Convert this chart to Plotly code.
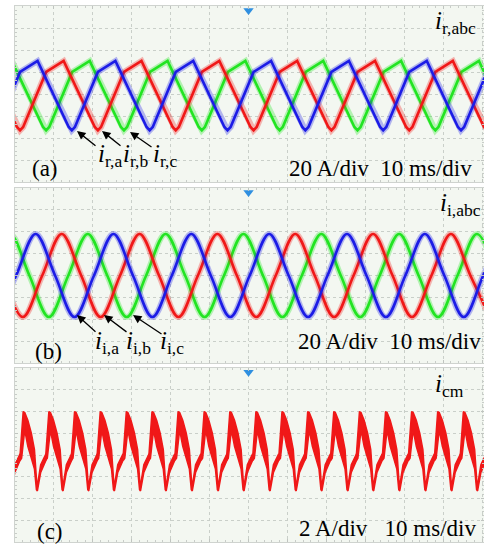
import plotly.graph_objects as go

W, H = 484, 545

# ---------------- data ----------------
# panel (a): rectifier currents (A) vs time (ms); one period of the read wave shape
# given as offsets from its positive peak, and the read peak instants of each phase
ra_shape_dt = [0.0, 8.0, 8.8, 9.6, 15.5]
ra_shape_v = [30, -30, -33, -30, 20]
ra_blue_peaks = [-14.2, 5.8, 25.8, 45.8, 65.8, 85.8, 105.8, 125.8]
ra_red_peaks = [-7.5, 12.5, 32.5, 52.5, 72.5, 92.5, 112.5, 132.5]
ra_green_peaks = [-20.8, -0.8, 19.2, 39.2, 59.2, 79.2, 99.2, 119.2]

# panel (b): inverter currents, peaks / zero crossings / troughs
ib_blue_t = [-4.7, 0.3, 5.3, 10.3, 15.3, 20.3, 25.3, 30.3, 35.3, 40.3, 45.3, 50.3, 55.3, 60.3, 65.3,
             70.3, 75.3, 80.3, 85.3, 90.3, 95.3, 100.3, 105.3, 110.3, 115.3, 120.3, 125.3]
ib_blue_v = [-38, 0, 38, 0] * 6 + [-38, 0, 38]
ib_red_t = [-3.0, 2.0, 7.0, 12.0, 17.0, 22.0, 27.0, 32.0, 37.0, 42.0, 47.0, 52.0, 57.0, 62.0, 67.0,
            72.0, 77.0, 82.0, 87.0, 92.0, 97.0, 102.0, 107.0, 112.0, 117.0, 122.0]
ib_red_v = [0, -38, 0, 38] * 6 + [0, -38]
ib_green_t = [-6.3, -1.3, 3.7, 8.7, 13.7, 18.7, 23.7, 28.7, 33.7, 38.7, 43.7, 48.7, 53.7, 58.7, 63.7,
              68.7, 73.7, 78.7, 83.7, 88.7, 93.7, 98.7, 103.7, 108.7, 113.7, 118.7, 123.7]
ib_green_v = [0, 38, 0, -38] * 6 + [0, 38, 0]

# panel (c): common-mode current; read envelope of one tooth (offsets from its peak) and peak instants
cm_up_dt = [-0.9, -0.1, 0.3, 1.1, 2.0, 2.8, 3.35, 3.45, 3.6, 4.4, 5.75]
cm_up_v = [0.0, 4.0, 3.9, 3.2, 2.0, 0.5, -2.4, -3.1, -2.7, -0.9, 0.1]
cm_lo_dt = [5.75, 4.4, 3.55, 3.3, 2.8, 2.0, 1.1, 0.3, -0.5, -0.9]
cm_lo_v = [-0.5, -1.6, -3.3, -3.2, -1.3, -0.3, 0.8, 2.3, -0.3, -0.5]
cm_peaks = [-4.45, 2.2, 8.8, 15.4, 22.0, 28.7, 35.3, 42.0, 48.7, 55.3, 62.0, 68.7, 75.3, 82.0,
            88.6, 95.3, 102.0, 108.7, 115.3, 122.0]

RED = "#f01818"
GREEN = "#22e422"
BLUE = "#1c1ce6"
BG = "#f3f7f1"
GRID = "#c9cfc9"
FONT = "Liberation Serif"

# ---------------- figure ----------------
fig = go.Figure()

def py(ypx):
    return 1 - ypx / H

def pxx(xpx):
    return xpx / W

doms = [(6, 182), (188, 363), (368, 542)]
x0 = 15
for i, (t0, b0) in enumerate(doms):
    n = "" if i == 0 else str(i + 1)
    yr = [-80, 80] if i < 2 else [-8, 8]
    ydt = 20 if i < 2 else 2
    fig.layout["yaxis" + n] = dict(domain=[py(b0), py(t0)], range=yr, dtick=ydt, tick0=0,
                                   showgrid=True, gridcolor=GRID, griddash="dot", gridwidth=1,
                                   zeroline=False, showticklabels=False,
                                   showline=True, linecolor="#cfd3cf", mirror="allticks",
                                   ticks="inside", ticklen=3, tickcolor="#c0c4c0",
                                   minor=dict(ticks="inside", ticklen=2, dtick=ydt / 5, tickcolor="#c8ccc8"),
                                   anchor="x" + n, fixedrange=True)
    fig.layout["xaxis" + n] = dict(domain=[pxx(x0), 1], range=[0, 120.5], dtick=10, tick0=0,
                                   showgrid=True, gridcolor=GRID, griddash="dot", gridwidth=1,
                                   zeroline=False, showticklabels=False,
                                   showline=True, linecolor="#cfd3cf", mirror="allticks",
                                   ticks="inside", ticklen=3, tickcolor="#c0c4c0",
                                   minor=dict(ticks="inside", ticklen=2, dtick=2, tickcolor="#c8ccc8"),
                                   anchor="y" + n, fixedrange=True)
    fig.add_shape(type="rect", xref=("x" + n + " domain"), yref=("y" + n + " domain"),
                  x0=0, x1=1, y0=0, y1=1, fillcolor=BG, line=dict(width=0), layer="below")

def add(t, v, color, ax, shape="linear"):
    # faint wide halo imitating the switching ripple, then the trace itself
    for w, op in ((6, 0.3), (2.6, 1.0)):
        fig.add_trace(go.Scatter(x=t, y=v, mode="lines", opacity=op,
                                 line=dict(color=color, width=w, shape=shape, smoothing=1.0),
                                 xaxis=ax.replace("y", "x"), yaxis=ax, showlegend=False,
                                 hoverinfo="skip"))

def chain(peaks, dts, vals):
    tt, vv = [], []
    for p in peaks:
        for d, v in zip(dts, vals):
            tt.append(p + d)
            vv.append(v)
    return tt, vv

for pk, col in ((ra_green_peaks, GREEN), (ra_red_peaks, RED), (ra_blue_peaks, BLUE)):
    t, v = chain(pk, ra_shape_dt, ra_shape_v)
    add(t, v, col, "y")

add(ib_green_t, ib_green_v, GREEN, "y2", "spline")
add(ib_red_t, ib_red_v, RED, "y2", "spline")
add(ib_blue_t, ib_blue_v, BLUE, "y2", "spline")

# common-mode current: filled envelope of each tooth
ct, cv = [], []
for p in cm_peaks:
    ct += [p + d for d in cm_up_dt] + [p + d for d in cm_lo_dt] + [None]
    cv += list(cm_up_v) + list(cm_lo_v) + [None]
fig.add_trace(go.Scatter(x=ct, y=cv, mode="lines", fill="toself", fillcolor=RED,
                         line=dict(color=RED, width=1.5), xaxis="x3", yaxis="y3",
                         showlegend=False, hoverinfo="skip"))

# trigger markers
for ax, yy in (("y", 76), ("y2", 76), ("y3", 7.6)):
    fig.add_trace(go.Scatter(x=[60], y=[yy], mode="markers",
                             marker=dict(symbol="triangle-down", size=9, color="#2f8fe0"),
                             xaxis=ax.replace("y", "x"), yaxis=ax, showlegend=False, cliponaxis=False,
                             hoverinfo="skip"))

ann = []
def txt(x, y, s, size=23, xanchor="center"):
    ann.append(dict(x=pxx(x), y=py(y), xref="paper", yref="paper", text=s, showarrow=False,
                    font=dict(family=FONT, size=size, color="black"), xanchor=xanchor, yanchor="middle"))

def arrow(hx, hy, tx, ty):
    ann.append(dict(x=pxx(hx), y=py(hy), ax=tx - hx, ay=ty - hy, xref="paper", yref="paper",
                    axref="pixel", ayref="pixel", text="", showarrow=True, arrowhead=2,
                    arrowsize=1.3, arrowwidth=1.3, arrowcolor="black"))

txt(45, 169, "(a)")
txt(48, 351, "(b)")
txt(50, 531, "(c)")
txt(474, 169, "20 A/div  10 ms/div", xanchor="right")
txt(483, 341, "20 A/div  10 ms/div", xanchor="right")
txt(478, 528, "2 A/div   10 ms/div", xanchor="right")
txt(478, 22, "<i>i</i><sub>r,abc</sub>", size=25, xanchor="right")
txt(483, 205, "<i>i</i><sub>i,abc</sub>", size=25, xanchor="right")
txt(466, 385, "<i>i</i><sub>cm</sub>", size=25, xanchor="right")

arrow(77, 131, 97, 147)
arrow(102, 131, 122, 147)
arrow(130, 132, 153, 148)
txt(110, 155, "<i>i</i><sub>r,a</sub>", size=25)
txt(135, 155, "<i>i</i><sub>r,b</sub>", size=25)
txt(165, 155, "<i>i</i><sub>r,c</sub>", size=25)

arrow(77, 315, 97, 333)
arrow(104, 315, 128, 333)
arrow(133, 315, 163, 335)
txt(107, 342, "<i>i</i><sub>i,a</sub>", size=25)
txt(138, 342, "<i>i</i><sub>i,b</sub>", size=25)
txt(172, 342, "<i>i</i><sub>i,c</sub>", size=25)

fig.update_layout(width=W, height=H, margin=dict(l=0, r=0, t=0, b=0),
                  paper_bgcolor="white", plot_bgcolor="white", annotations=ann)

fig.write_html("out.html")
